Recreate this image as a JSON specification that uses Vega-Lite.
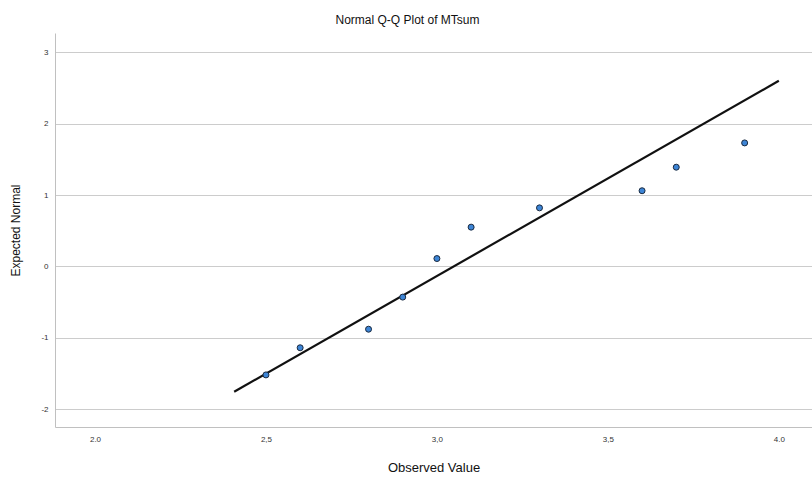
{
  "$schema": "https://vega.github.io/schema/vega-lite/v6.json",
  "width": 757,
  "height": 394,
  "autosize": {"type": "none"},
  "padding": {"left": 55, "top": 33, "right": 0, "bottom": 50},
  "background": "white",
  "title": {
    "text": "Normal Q-Q Plot of MTsum",
    "font": "Liberation Sans",
    "fontSize": 12,
    "fontWeight": "normal",
    "color": "#111111",
    "anchor": "middle",
    "dx": -26,
    "offset": 6
  },
  "config": {
    "view": {"stroke": null},
    "axis": {
      "labelFont": "Liberation Sans",
      "titleFont": "Liberation Sans",
      "labelColor": "#333333",
      "titleColor": "#111111",
      "titleFontWeight": "normal",
      "domainColor": "#c0c0c0",
      "ticks": false,
      "gridColor": "#cccccc"
    }
  },
  "layer": [
    {
      "data": {"values": [
        {"observed": 2.407, "expected": -1.756},
        {"observed": 4.0, "expected": 2.6}
      ]},
      "mark": {"type": "line", "color": "#111111", "strokeWidth": 2.2, "clip": true},
      "encoding": {
        "x": {"field": "observed", "type": "quantitative"},
        "y": {"field": "expected", "type": "quantitative"}
      }
    },
    {
      "data": {"values": [
        {"observed": 2.5, "expected": -1.52},
        {"observed": 2.6, "expected": -1.14},
        {"observed": 2.8, "expected": -0.88},
        {"observed": 2.9, "expected": -0.43},
        {"observed": 3.0, "expected": 0.11},
        {"observed": 3.1, "expected": 0.55},
        {"observed": 3.3, "expected": 0.82},
        {"observed": 3.6, "expected": 1.06},
        {"observed": 3.7, "expected": 1.39},
        {"observed": 3.9, "expected": 1.73}
      ]},
      "mark": {"type": "point", "filled": true, "fill": "#3d85d6", "stroke": "#1a2a40", "strokeWidth": 1, "size": 36, "opacity": 1},
      "encoding": {
        "x": {
          "field": "observed", "type": "quantitative",
          "scale": {"domain": [1.883, 4.097], "nice": false, "zero": false},
          "axis": {
            "title": "Observed Value",
            "titleFontSize": 13,
            "titlePadding": 18,
            "labelFontSize": 8,
            "labelPadding": 8,
            "values": [2, 2.5, 3, 3.5, 4],
            "grid": false,
            "labelExpr": "(datum.value == 2 || datum.value == 4) ? format(datum.value, '.1f') : replace(format(datum.value, '.1f'), '.', ',')"
          }
        },
        "y": {
          "field": "expected", "type": "quantitative",
          "scale": {"domain": [-2.25, 3.27], "nice": false, "zero": false},
          "axis": {
            "title": "Expected Normal",
            "titleFontSize": 12,
            "titlePadding": 18,
            "labelFontSize": 8,
            "labelPadding": 7,
            "values": [-2, -1, 0, 1, 2, 3],
            "grid": true,
            "labelExpr": "datum.value < 0 ? '-' + abs(datum.value) : '' + datum.value"
          }
        }
      }
    }
  ]
}
